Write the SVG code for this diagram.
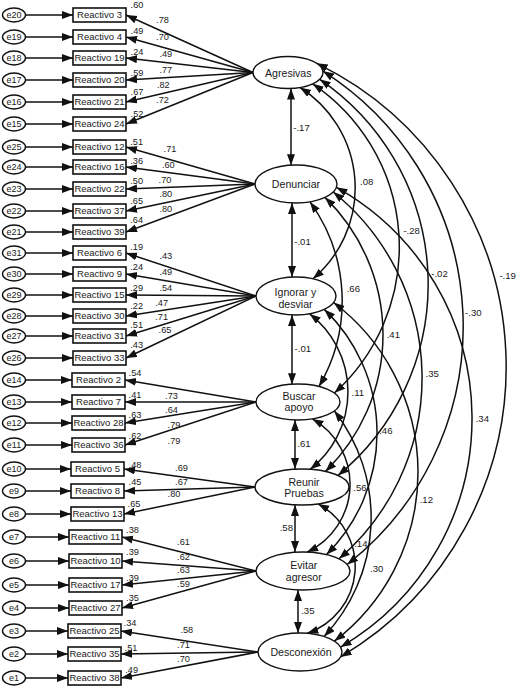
<svg xmlns="http://www.w3.org/2000/svg" width="517" height="687" viewBox="0 0 517 687">
<style>
.l{stroke:#111;stroke-width:1.5;fill:none}
.a{marker-end:url(#ah)}
.d{marker-start:url(#ah);marker-end:url(#ah)}
.el{fill:#fff;stroke:#111;stroke-width:1.4}
.bx{fill:#fff;stroke:#111;stroke-width:1.6}
text{font-family:"Liberation Sans",Arial,sans-serif;fill:#1a1a1a}
.e{font-size:9px;text-anchor:middle}
.r{font-size:9.5px;text-anchor:middle}
.n{font-size:9.2px;text-anchor:middle}
.c{font-size:9.6px;text-anchor:middle}
.f{font-size:10.6px;text-anchor:middle}
</style>
<defs>
<marker id="ah" markerUnits="userSpaceOnUse" markerWidth="12" markerHeight="9" refX="11" refY="4" orient="auto-start-reverse"><path d="M0,0 L11,4 L0,8 z" fill="#111"/></marker>
</defs>
<g id="connectors">
<line class="l a" x1="25.5" y1="15" x2="73" y2="15"/>
<line class="l a" x1="25.5" y1="37" x2="73" y2="37"/>
<line class="l a" x1="25.5" y1="58" x2="73" y2="58"/>
<line class="l a" x1="25.5" y1="80" x2="73" y2="80"/>
<line class="l a" x1="25.5" y1="102" x2="73" y2="102"/>
<line class="l a" x1="25.5" y1="124" x2="73" y2="124"/>
<line class="l a" x1="25.5" y1="147" x2="73" y2="147"/>
<line class="l a" x1="25.5" y1="167" x2="73" y2="167"/>
<line class="l a" x1="25.5" y1="189" x2="73" y2="189"/>
<line class="l a" x1="25.5" y1="211" x2="73" y2="211"/>
<line class="l a" x1="25.5" y1="232" x2="73" y2="232"/>
<line class="l a" x1="25.5" y1="253" x2="73" y2="253"/>
<line class="l a" x1="25.5" y1="274" x2="73" y2="274"/>
<line class="l a" x1="25.5" y1="295" x2="73" y2="295"/>
<line class="l a" x1="25.5" y1="316" x2="73" y2="316"/>
<line class="l a" x1="25.5" y1="336" x2="73" y2="336"/>
<line class="l a" x1="25.5" y1="358" x2="73" y2="358"/>
<line class="l a" x1="25.5" y1="380" x2="72" y2="380"/>
<line class="l a" x1="25.5" y1="402" x2="72" y2="402"/>
<line class="l a" x1="25.5" y1="423" x2="72" y2="423"/>
<line class="l a" x1="25.5" y1="445" x2="72" y2="445"/>
<line class="l a" x1="25.5" y1="469" x2="71" y2="469"/>
<line class="l a" x1="25.5" y1="491" x2="71" y2="491"/>
<line class="l a" x1="25.5" y1="514" x2="71" y2="514"/>
<line class="l a" x1="25.5" y1="537" x2="69" y2="537"/>
<line class="l a" x1="25.5" y1="561" x2="69" y2="561"/>
<line class="l a" x1="25.5" y1="585" x2="69" y2="585"/>
<line class="l a" x1="25.5" y1="608" x2="69" y2="608"/>
<line class="l a" x1="25.5" y1="631" x2="68" y2="631"/>
<line class="l a" x1="25.5" y1="654" x2="68" y2="654"/>
<line class="l a" x1="25.5" y1="678" x2="68" y2="678"/>
<line class="l a" x1="253" y1="72.5" x2="126" y2="15"/>
<line class="l a" x1="253" y1="72.5" x2="126" y2="37"/>
<line class="l a" x1="253" y1="72.5" x2="126" y2="58"/>
<line class="l a" x1="253" y1="72.5" x2="126" y2="80"/>
<line class="l a" x1="253" y1="72.5" x2="126" y2="102"/>
<line class="l a" x1="253" y1="72.5" x2="126" y2="124"/>
<line class="l a" x1="255" y1="184" x2="126" y2="147"/>
<line class="l a" x1="255" y1="184" x2="126" y2="167"/>
<line class="l a" x1="255" y1="184" x2="126" y2="189"/>
<line class="l a" x1="255" y1="184" x2="126" y2="211"/>
<line class="l a" x1="255" y1="184" x2="126" y2="232"/>
<line class="l a" x1="256" y1="296" x2="126" y2="253"/>
<line class="l a" x1="256" y1="296" x2="126" y2="274"/>
<line class="l a" x1="256" y1="296" x2="126" y2="295"/>
<line class="l a" x1="256" y1="296" x2="126" y2="316"/>
<line class="l a" x1="256" y1="296" x2="126" y2="336"/>
<line class="l a" x1="256" y1="296" x2="126" y2="358"/>
<line class="l a" x1="256" y1="402" x2="125" y2="380"/>
<line class="l a" x1="256" y1="402" x2="125" y2="402"/>
<line class="l a" x1="256" y1="402" x2="125" y2="423"/>
<line class="l a" x1="256" y1="402" x2="125" y2="445"/>
<line class="l a" x1="255" y1="487" x2="124" y2="469"/>
<line class="l a" x1="255" y1="487" x2="124" y2="491"/>
<line class="l a" x1="255" y1="487" x2="124" y2="514"/>
<line class="l a" x1="256" y1="571" x2="122" y2="537"/>
<line class="l a" x1="256" y1="571" x2="122" y2="561"/>
<line class="l a" x1="256" y1="571" x2="122" y2="585"/>
<line class="l a" x1="256" y1="571" x2="122" y2="608"/>
<line class="l a" x1="258" y1="652" x2="121" y2="631"/>
<line class="l a" x1="258" y1="652" x2="121" y2="654"/>
<line class="l a" x1="258" y1="652" x2="121" y2="678"/>
<line class="l d" x1="291" y1="88.5" x2="291" y2="165.2"/>
<line class="l d" x1="292" y1="202.9" x2="292" y2="277.1"/>
<line class="l d" x1="292" y1="314.9" x2="292" y2="384.2"/>
<line class="l d" x1="295" y1="420" x2="295" y2="469.1"/>
<line class="l d" x1="295" y1="504.9" x2="295" y2="552.1"/>
<line class="l d" x1="298" y1="590" x2="298" y2="633"/>
<path class="l d" d="M300,87.5 A118.9,118.9 0 0 1 312.9,278.8"/>
<path class="l d" d="M312.7,83.8 A196.9,196.9 0 0 1 334.4,393"/>
<path class="l d" d="M319.7,79.3 A247.8,247.8 0 0 1 338,475.4"/>
<path class="l d" d="M322.9,71.1 A302.4,302.4 0 0 1 347.2,564.5"/>
<path class="l d" d="M316.7,63.3 A337.4,337.4 0 0 1 340.6,656.9"/>
<path class="l d" d="M310,201.9 A168.8,168.8 0 0 1 319,386.4"/>
<path class="l d" d="M325,197.4 A191.4,191.4 0 0 1 325.5,471.4"/>
<path class="l d" d="M333.2,192 A238.7,238.7 0 0 1 339,558.8"/>
<path class="l d" d="M336.4,187.3 A264.7,264.7 0 0 1 340.6,647.1"/>
<path class="l d" d="M309.7,313.9 A98.4,98.4 0 0 1 310.2,469.3"/>
<path class="l d" d="M324.3,309.4 A171.3,171.3 0 0 1 326.5,554.5"/>
<path class="l d" d="M333.6,302.5 A212.6,212.6 0 0 1 334.4,641.1"/>
<path class="l d" d="M312.4,418.9 A75.3,75.3 0 0 1 307.1,552.1"/>
<path class="l d" d="M334.4,411 A173.3,173.3 0 0 1 324.1,636.4"/>
<path class="l d" d="M318.1,503.9 A70.9,70.9 0 0 1 307.3,633.3"/>
</g>
<g id="labels">
<text class="n" x="137" y="8.4">.60</text>
<text class="n" x="137" y="34.1">.49</text>
<text class="n" x="137" y="55.1">.24</text>
<text class="n" x="137" y="76.1">.59</text>
<text class="n" x="137" y="95.4">.67</text>
<text class="n" x="137" y="116.7">.52</text>
<text class="n" x="136.7" y="145.1">.51</text>
<text class="n" x="136.7" y="164.1">.36</text>
<text class="n" x="136.7" y="184.1">.50</text>
<text class="n" x="136.7" y="204.4">.65</text>
<text class="n" x="136.7" y="223.4">.64</text>
<text class="n" x="136.7" y="250.1">.19</text>
<text class="n" x="136.7" y="270.1">.24</text>
<text class="n" x="136.7" y="290.7">.29</text>
<text class="n" x="136.7" y="309.4">.22</text>
<text class="n" x="136.7" y="328.4">.51</text>
<text class="n" x="136.7" y="348.4">.43</text>
<text class="n" x="135" y="375.7">.54</text>
<text class="n" x="135" y="397.7">.41</text>
<text class="n" x="135" y="417.7">.63</text>
<text class="n" x="135" y="439.1">.62</text>
<text class="n" x="135" y="467.7">.48</text>
<text class="n" x="135" y="485.1">.45</text>
<text class="n" x="134" y="506.7">.65</text>
<text class="n" x="132.5" y="532.7">.38</text>
<text class="n" x="132.5" y="555.1">.39</text>
<text class="n" x="132.5" y="580.7">.39</text>
<text class="n" x="132.5" y="600.7">.35</text>
<text class="n" x="130" y="625.7">.34</text>
<text class="n" x="131" y="650.7">.51</text>
<text class="n" x="131.7" y="673.4">.49</text>
<text class="n" x="162.5" y="23.4">.78</text>
<text class="n" x="162.5" y="40.1">.70</text>
<text class="n" x="165.8" y="56.7">.49</text>
<text class="n" x="165.8" y="73.4">.77</text>
<text class="n" x="163.3" y="88.4">.82</text>
<text class="n" x="162.5" y="102.7">.72</text>
<text class="n" x="170" y="152.4">.71</text>
<text class="n" x="168.3" y="167.7">.60</text>
<text class="n" x="165" y="183.4">.70</text>
<text class="n" x="165.8" y="196.7">.80</text>
<text class="n" x="165.8" y="212.4">.80</text>
<text class="n" x="165.8" y="259.1">.43</text>
<text class="n" x="165.8" y="275.1">.49</text>
<text class="n" x="165.8" y="291.1">.54</text>
<text class="n" x="161.7" y="305.7">.47</text>
<text class="n" x="161.7" y="320.1">.71</text>
<text class="n" x="165" y="333.4">.65</text>
<text class="n" x="171.5" y="399.4">.73</text>
<text class="n" x="171.5" y="412.7">.64</text>
<text class="n" x="174" y="428.4">.79</text>
<text class="n" x="174" y="444.1">.79</text>
<text class="n" x="181.5" y="471.1">.69</text>
<text class="n" x="181.5" y="485.1">.67</text>
<text class="n" x="174" y="496.7">.80</text>
<text class="n" x="183.5" y="545.1">.61</text>
<text class="n" x="183.5" y="560.1">.62</text>
<text class="n" x="183.5" y="573.4">.63</text>
<text class="n" x="183.5" y="586.7">.59</text>
<text class="n" x="186.8" y="633.4">.58</text>
<text class="n" x="183.5" y="648.4">.71</text>
<text class="n" x="183.5" y="661.7">.70</text>
<text class="c" x="301.5" y="130.9">-.17</text>
<text class="c" x="302.5" y="245.1">-.01</text>
<text class="c" x="302.8" y="352.4">-.01</text>
<text class="c" x="304" y="447.4">.61</text>
<text class="c" x="286.3" y="531.4">.58</text>
<text class="c" x="307.8" y="614.4">.35</text>
<text class="c" x="366.7" y="185.1">.08</text>
<text class="c" x="411.7" y="234.1">-.28</text>
<text class="c" x="439.5" y="276.7">-.02</text>
<text class="c" x="473.3" y="315.7">-.30</text>
<text class="c" x="507.7" y="279.1">-.19</text>
<text class="c" x="353.3" y="292.4">.66</text>
<text class="c" x="393.3" y="337.7">.41</text>
<text class="c" x="432.2" y="377.4">.35</text>
<text class="c" x="482.3" y="422.4">.34</text>
<text class="c" x="357.8" y="396.1">.11</text>
<text class="c" x="385.8" y="434.1">.46</text>
<text class="c" x="426.3" y="502.7">.12</text>
<text class="c" x="360" y="490.7">.56</text>
<text class="c" x="376.7" y="572.4">.30</text>
<text class="c" x="360.8" y="546.7">.14</text>
</g>
<g id="Agresivas"><ellipse class="el" cx="288" cy="72.5" rx="35" ry="16"/><text class="f" x="288.3" y="77">Agresivas</text></g>
<g id="Denunciar"><ellipse class="el" cx="296" cy="184" rx="41" ry="19"/><text class="f" x="296" y="188">Denunciar</text></g>
<g id="Ignorar"><ellipse class="el" cx="296" cy="296" rx="40" ry="19"/><text class="f" x="295.5" y="296">Ignorar y</text><text class="f" x="295.5" y="307.5">desviar</text></g>
<g id="Buscar"><ellipse class="el" cx="298" cy="402" rx="42" ry="18"/><text class="f" x="299" y="399.5">Buscar</text><text class="f" x="299" y="411">apoyo</text></g>
<g id="Reunir"><ellipse class="el" cx="302" cy="487" rx="47" ry="18"/><text class="f" x="304" y="485.5">Reunir</text><text class="f" x="304" y="497">Pruebas</text></g>
<g id="Evitar"><ellipse class="el" cx="303" cy="571" rx="47" ry="19"/><text class="f" x="303.8" y="569">Evitar</text><text class="f" x="303.8" y="580.5">agresor</text></g>
<g id="Desconexion"><ellipse class="el" cx="300" cy="652" rx="42" ry="19"/><text class="f" x="301" y="656">Desconexión</text></g>
<g id="e20"><ellipse class="el" cx="14" cy="15" rx="11.5" ry="7"/><text class="e" x="14" y="18.2">e20</text></g>
<g id="e19"><ellipse class="el" cx="14" cy="37" rx="11.5" ry="7"/><text class="e" x="14" y="40.2">e19</text></g>
<g id="e18"><ellipse class="el" cx="14" cy="58" rx="11.5" ry="7"/><text class="e" x="14" y="61.2">e18</text></g>
<g id="e17"><ellipse class="el" cx="14" cy="80" rx="11.5" ry="7"/><text class="e" x="14" y="83.2">e17</text></g>
<g id="e16"><ellipse class="el" cx="14" cy="102" rx="11.5" ry="7"/><text class="e" x="14" y="105.2">e16</text></g>
<g id="e15"><ellipse class="el" cx="14" cy="124" rx="11.5" ry="7"/><text class="e" x="14" y="127.2">e15</text></g>
<g id="e25"><ellipse class="el" cx="14" cy="147" rx="11.5" ry="7"/><text class="e" x="14" y="150.2">e25</text></g>
<g id="e24"><ellipse class="el" cx="14" cy="167" rx="11.5" ry="7"/><text class="e" x="14" y="170.2">e24</text></g>
<g id="e23"><ellipse class="el" cx="14" cy="189" rx="11.5" ry="7"/><text class="e" x="14" y="192.2">e23</text></g>
<g id="e22"><ellipse class="el" cx="14" cy="211" rx="11.5" ry="7"/><text class="e" x="14" y="214.2">e22</text></g>
<g id="e21"><ellipse class="el" cx="14" cy="232" rx="11.5" ry="7"/><text class="e" x="14" y="235.2">e21</text></g>
<g id="e31"><ellipse class="el" cx="14" cy="253" rx="11.5" ry="7"/><text class="e" x="14" y="256.2">e31</text></g>
<g id="e30"><ellipse class="el" cx="14" cy="274" rx="11.5" ry="7"/><text class="e" x="14" y="277.2">e30</text></g>
<g id="e29"><ellipse class="el" cx="14" cy="295" rx="11.5" ry="7"/><text class="e" x="14" y="298.2">e29</text></g>
<g id="e28"><ellipse class="el" cx="14" cy="316" rx="11.5" ry="7"/><text class="e" x="14" y="319.2">e28</text></g>
<g id="e27"><ellipse class="el" cx="14" cy="336" rx="11.5" ry="7"/><text class="e" x="14" y="339.2">e27</text></g>
<g id="e26"><ellipse class="el" cx="14" cy="358" rx="11.5" ry="7"/><text class="e" x="14" y="361.2">e26</text></g>
<g id="e14"><ellipse class="el" cx="14" cy="380" rx="11.5" ry="7"/><text class="e" x="14" y="383.2">e14</text></g>
<g id="e13"><ellipse class="el" cx="14" cy="402" rx="11.5" ry="7"/><text class="e" x="14" y="405.2">e13</text></g>
<g id="e12"><ellipse class="el" cx="14" cy="423" rx="11.5" ry="7"/><text class="e" x="14" y="426.2">e12</text></g>
<g id="e11"><ellipse class="el" cx="14" cy="445" rx="11.5" ry="7"/><text class="e" x="14" y="448.2">e11</text></g>
<g id="e10"><ellipse class="el" cx="14" cy="469" rx="11.5" ry="7"/><text class="e" x="14" y="472.2">e10</text></g>
<g id="e9"><ellipse class="el" cx="14" cy="491" rx="11.5" ry="7"/><text class="e" x="14" y="494.2">e9</text></g>
<g id="e8"><ellipse class="el" cx="14" cy="514" rx="11.5" ry="7"/><text class="e" x="14" y="517.2">e8</text></g>
<g id="e7"><ellipse class="el" cx="14" cy="537" rx="11.5" ry="7"/><text class="e" x="14" y="540.2">e7</text></g>
<g id="e6"><ellipse class="el" cx="14" cy="561" rx="11.5" ry="7"/><text class="e" x="14" y="564.2">e6</text></g>
<g id="e5"><ellipse class="el" cx="14" cy="585" rx="11.5" ry="7"/><text class="e" x="14" y="588.2">e5</text></g>
<g id="e4"><ellipse class="el" cx="14" cy="608" rx="11.5" ry="7"/><text class="e" x="14" y="611.2">e4</text></g>
<g id="e3"><ellipse class="el" cx="14" cy="631" rx="11.5" ry="7"/><text class="e" x="14" y="634.2">e3</text></g>
<g id="e2"><ellipse class="el" cx="14" cy="654" rx="11.5" ry="7"/><text class="e" x="14" y="657.2">e2</text></g>
<g id="e1"><ellipse class="el" cx="14" cy="678" rx="11.5" ry="7"/><text class="e" x="14" y="681.2">e1</text></g>
<g id="R3"><rect class="bx" x="73" y="8" width="53" height="14"/><text class="r" x="99.5" y="18.4">Reactivo 3</text></g>
<g id="R4"><rect class="bx" x="73" y="30" width="53" height="14"/><text class="r" x="99.5" y="40.4">Reactivo 4</text></g>
<g id="R19"><rect class="bx" x="73" y="51" width="53" height="14"/><text class="r" x="99.5" y="61.4">Reactivo 19</text></g>
<g id="R20"><rect class="bx" x="73" y="73" width="53" height="14"/><text class="r" x="99.5" y="83.4">Reactivo 20</text></g>
<g id="R21"><rect class="bx" x="73" y="95" width="53" height="14"/><text class="r" x="99.5" y="105.4">Reactivo 21</text></g>
<g id="R24"><rect class="bx" x="73" y="117" width="53" height="14"/><text class="r" x="99.5" y="127.4">Reactivo 24</text></g>
<g id="R12"><rect class="bx" x="73" y="140" width="53" height="14"/><text class="r" x="99.5" y="150.4">Reactivo 12</text></g>
<g id="R16"><rect class="bx" x="73" y="160" width="53" height="14"/><text class="r" x="99.5" y="170.4">Reactivo 16</text></g>
<g id="R22"><rect class="bx" x="73" y="182" width="53" height="14"/><text class="r" x="99.5" y="192.4">Reactivo 22</text></g>
<g id="R37"><rect class="bx" x="73" y="204" width="53" height="14"/><text class="r" x="99.5" y="214.4">Reactivo 37</text></g>
<g id="R39"><rect class="bx" x="73" y="225" width="53" height="14"/><text class="r" x="99.5" y="235.4">Reactivo 39</text></g>
<g id="R6"><rect class="bx" x="73" y="246" width="53" height="14"/><text class="r" x="99.5" y="256.4">Reactivo 6</text></g>
<g id="R9"><rect class="bx" x="73" y="267" width="53" height="14"/><text class="r" x="99.5" y="277.4">Reactivo 9</text></g>
<g id="R15"><rect class="bx" x="73" y="288" width="53" height="14"/><text class="r" x="99.5" y="298.4">Reactivo 15</text></g>
<g id="R30"><rect class="bx" x="73" y="309" width="53" height="14"/><text class="r" x="99.5" y="319.4">Reactivo 30</text></g>
<g id="R31"><rect class="bx" x="73" y="329" width="53" height="14"/><text class="r" x="99.5" y="339.4">Reactivo 31</text></g>
<g id="R33"><rect class="bx" x="73" y="351" width="53" height="14"/><text class="r" x="99.5" y="361.4">Reactivo 33</text></g>
<g id="R2"><rect class="bx" x="72" y="373" width="53" height="14"/><text class="r" x="98.5" y="383.4">Reactivo 2</text></g>
<g id="R7"><rect class="bx" x="72" y="395" width="53" height="14"/><text class="r" x="98.5" y="405.4">Reactivo 7</text></g>
<g id="R28"><rect class="bx" x="72" y="416" width="53" height="14"/><text class="r" x="98.5" y="426.4">Reactivo 28</text></g>
<g id="R36"><rect class="bx" x="72" y="438" width="53" height="14"/><text class="r" x="98.5" y="448.4">Reactivo 36</text></g>
<g id="R5"><rect class="bx" x="71" y="462" width="53" height="14"/><text class="r" x="97.5" y="472.4">Reactivo 5</text></g>
<g id="R8"><rect class="bx" x="71" y="484" width="53" height="14"/><text class="r" x="97.5" y="494.4">Reactivo 8</text></g>
<g id="R13"><rect class="bx" x="71" y="507" width="53" height="14"/><text class="r" x="97.5" y="517.4">Reactivo 13</text></g>
<g id="R11"><rect class="bx" x="69" y="530" width="53" height="14"/><text class="r" x="95.5" y="540.4">Reactivo 11</text></g>
<g id="R10"><rect class="bx" x="69" y="554" width="53" height="14"/><text class="r" x="95.5" y="564.4">Reactivo 10</text></g>
<g id="R17"><rect class="bx" x="69" y="578" width="53" height="14"/><text class="r" x="95.5" y="588.4">Reactivo 17</text></g>
<g id="R27"><rect class="bx" x="69" y="601" width="53" height="14"/><text class="r" x="95.5" y="611.4">Reactivo 27</text></g>
<g id="R25"><rect class="bx" x="68" y="624" width="53" height="14"/><text class="r" x="94.5" y="634.4">Reactivo 25</text></g>
<g id="R35"><rect class="bx" x="68" y="647" width="53" height="14"/><text class="r" x="94.5" y="657.4">Reactivo 35</text></g>
<g id="R38"><rect class="bx" x="68" y="671" width="53" height="14"/><text class="r" x="94.5" y="681.4">Reactivo 38</text></g>
</svg>
